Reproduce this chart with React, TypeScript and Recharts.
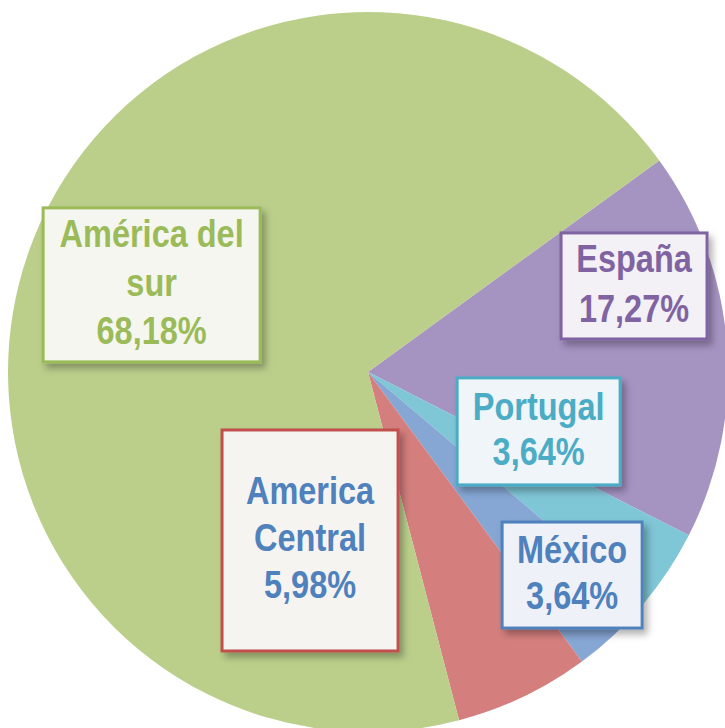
import React from 'react';
import { PieChart, Pie, Cell } from 'recharts';

// Distribución por región (orden horario desde España)
const regions = ['España', 'Portugal', 'México', 'America Central', 'América del sur'];
const shares = [17.27, 3.64, 3.64, 5.98, 68.18];
// how each name is broken inside its box
const regionLines = [['España'], ['Portugal'], ['México'], ['America', 'Central'], ['América del', 'sur']];

const sliceColors = ['#A593C2', '#7FC6D6', '#86A6D4', '#D47F7E', '#BBCF8B'];
const borderColors = ['#8064A2', '#4BACC6', '#4F81BD', '#C0504D', '#9BBB59'];
const textColors = ['#8064A2', '#4BACC6', '#4F81BD', '#4F81BD', '#9BBB59'];
const boxFills = ['#F3F0F6', '#EFF5F8', '#EEF2F8', '#F6F4F0', '#F5F6F0'];

// box centre as a fraction of the radius from the pie centre, plus box size
const boxLayout = [
  { fx: 0.739, fy: -0.239, w: 146, h: 106, lh: 50 },
  { fx: 0.474, fy: 0.165, w: 163, h: 107, lh: 45 },
  { fx: 0.567, fy: 0.564, w: 140, h: 106, lh: 46 },
  { fx: -0.161, fy: 0.468, w: 176, h: 221, lh: 47 },
  { fx: -0.601, fy: -0.242, w: 217, h: 154, lh: 48.5 },
];

const data = regions.map((name, i) => ({ name, value: shares[i] }));

const fmt = (v: number) => v.toFixed(2).replace('.', ',') + '%';

const FONT = "'Liberation Sans', Arial, sans-serif";

const BoxLabel = (props: any) => {
  const { cx, cy, outerRadius, index } = props;
  const L = boxLayout[index];
  const bx = cx + L.fx * outerRadius;
  const by = cy + L.fy * outerRadius;
  const lines = [...regionLines[index], fmt(shares[index])];
  const firstBase = by - ((lines.length - 1) * L.lh) / 2 + 11;
  return (
    <g>
      <rect
        x={bx - L.w / 2}
        y={by - L.h / 2}
        width={L.w}
        height={L.h}
        fill={boxFills[index]}
        stroke={borderColors[index]}
        strokeWidth={3}
        filter="url(#boxShadow)"
      />
      {lines.map((t, k) => (
        <text
          key={k}
          transform={`translate(${bx}, ${firstBase + k * L.lh}) scale(1, 1.2)`}
          textAnchor="middle"
          fill={textColors[index]}
          fontFamily={FONT}
          fontWeight="bold"
          fontSize={32.5}
        >
          {t}
        </text>
      ))}
    </g>
  );
};

export default function App() {
  return (
    <div style={{ position: 'absolute', left: 0, top: 0, width: 725, height: 728, background: '#fff' }}>
      <svg width={0} height={0} style={{ position: 'absolute' }}>
        <defs>
          <filter id="boxShadow" x="-20%" y="-20%" width="150%" height="150%">
            <feDropShadow dx={4} dy={5} stdDeviation={3.5} floodColor="#000" floodOpacity={0.3} />
          </filter>
        </defs>
      </svg>
      <PieChart width={725} height={728} margin={{ top: 0, right: 0, bottom: 0, left: 0 }}>
        <Pie
          data={data}
          dataKey="value"
          nameKey="name"
          cx={368}
          cy={372}
          outerRadius={360}
          startAngle={36}
          endAngle={-324}
          stroke="none"
          labelLine={false}
          label={BoxLabel}
          isAnimationActive={false}
        >
          {data.map((d, i) => (
            <Cell key={d.name} fill={sliceColors[i]} />
          ))}
        </Pie>
      </PieChart>
    </div>
  );
}
